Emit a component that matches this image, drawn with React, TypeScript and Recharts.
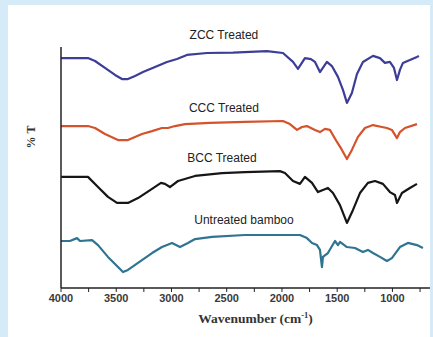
import { Label, Line, LineChart, ReferenceDot, XAxis, YAxis } from 'recharts';

// FTIR spectra, wavenumber in cm^-1, transmittance offset per sample (arbitrary units)
const zccWave = [4000, 3873, 3756, 3692, 3602, 3511, 3448, 3394, 3330, 3258, 3149, 3041, 2950, 2860, 2679, 2443, 2136, 1991, 1900, 1855, 1792, 1738, 1701, 1656, 1593, 1548, 1493, 1448, 1412, 1367, 1321, 1267, 1176, 1113, 1068, 1023, 986, 959, 932, 905, 842, 778, 760];
const zccT = [95.4, 95.4, 95.4, 94.2, 91.3, 88.4, 86.7, 86.7, 88.0, 89.6, 91.7, 93.8, 95.0, 96.7, 97.5, 97.7, 98.3, 97.5, 93.8, 90.9, 95.4, 95.0, 93.8, 89.6, 93.8, 92.1, 87.6, 82.2, 76.8, 80.9, 88.8, 93.8, 96.3, 95.4, 93.4, 93.8, 91.3, 86.3, 90.5, 93.4, 94.6, 95.9, 96.3];

const cccWave = [4000, 3756, 3692, 3602, 3484, 3394, 3330, 3267, 3176, 3086, 3032, 2968, 2878, 2652, 2335, 1991, 1928, 1864, 1819, 1774, 1701, 1656, 1611, 1566, 1502, 1457, 1412, 1367, 1312, 1249, 1176, 1095, 1050, 1005, 959, 932, 887, 778];
const cccT = [67.2, 67.2, 66.4, 63.9, 61.4, 61.4, 62.7, 63.9, 65.1, 66.4, 66.4, 67.2, 68.0, 68.5, 68.9, 69.3, 68.0, 65.6, 66.8, 67.2, 65.6, 64.7, 66.0, 65.6, 60.6, 57.3, 53.5, 57.3, 62.7, 66.4, 67.6, 66.8, 66.4, 65.6, 62.2, 64.7, 66.4, 68.0];

const bccWave = [4000, 3756, 3665, 3575, 3493, 3394, 3303, 3176, 3095, 3059, 3014, 2941, 2787, 2543, 2335, 2018, 1973, 1900, 1837, 1792, 1728, 1674, 1629, 1584, 1538, 1475, 1412, 1357, 1294, 1222, 1158, 1086, 1023, 977, 959, 914, 842, 778];
const bccT = [46.1, 46.1, 41.9, 37.8, 35.3, 35.3, 37.3, 41.1, 43.6, 43.2, 41.9, 44.4, 46.5, 47.7, 48.1, 48.5, 47.7, 44.4, 43.2, 46.1, 43.6, 39.8, 40.7, 41.5, 39.4, 34.4, 27.0, 32.4, 39.4, 43.6, 44.4, 43.2, 39.8, 38.6, 35.3, 39.4, 41.5, 43.2];

const rawWave = [4000, 3919, 3855, 3828, 3719, 3665, 3575, 3484, 3439, 3394, 3303, 3176, 3086, 2995, 2923, 2851, 2787, 2633, 2335, 2018, 1837, 1774, 1728, 1683, 1656, 1638, 1629, 1584, 1520, 1493, 1475, 1412, 1339, 1267, 1222, 1176, 1113, 1050, 1005, 932, 860, 778, 724];
const rawT = [19.5, 19.5, 20.7, 19.5, 19.9, 17.8, 12.9, 8.7, 6.6, 7.5, 10.4, 14.5, 17.0, 18.7, 17.0, 18.7, 20.3, 21.2, 22.0, 22.0, 22.0, 20.7, 18.7, 17.8, 15.8, 8.7, 12.9, 14.5, 19.5, 17.8, 19.1, 17.0, 16.6, 14.9, 15.8, 14.5, 12.9, 11.2, 12.4, 17.0, 18.7, 17.8, 16.6];

const xTicks = [4000, 3750, 3500, 3250, 3000, 2750, 2500, 2250, 2000, 1750, 1500, 1250, 1000, 750];

const sampleNames = ['ZCC Treated', 'CCC Treated', 'BCC Treated', 'Untreated bamboo'];
const labelWave = [2525, 2525, 2543, 2344];
const labelT = [105, 74.7, 53.9, 28.2];

const zip = (w: number[], t: number[]) => w.map((x, i) => ({ w: x, t: t[i] }));

const series = [
  { name: 'ZCC', data: zip(zccWave, zccT), color: '#3d3d98' },
  { name: 'CCC', data: zip(cccWave, cccT), color: '#d4532b' },
  { name: 'BCC', data: zip(bccWave, bccT), color: '#161616' },
  { name: 'Untreated', data: zip(rawWave, rawT), color: '#2f7491' },
];

const SERIF = '"Liberation Serif", "Times New Roman", serif';
const SANS = '"Liberation Sans", Arial, sans-serif';

const XTitle = ({ viewBox }: any) => {
  const { x, y, width } = viewBox;
  return (
    <text x={x + width / 2 + 10} y={y + 35} textAnchor="middle" fontFamily={SERIF} fontWeight="bold" fontSize={13.5} fill="#333">
      Wavenumber (cm
      <tspan dy={-5} fontSize={8.5}>-1</tspan>
      <tspan dy={5}>)</tspan>
    </text>
  );
};

const YTitle = ({ viewBox }: any) => {
  const { x, y } = viewBox;
  const cx = x + 31;
  const cy = y + 90;
  return (
    <text x={cx} y={cy} transform={`rotate(-90 ${cx} ${cy})`} textAnchor="middle" dominantBaseline="central" fontFamily={SERIF} fontWeight="bold" fontSize={12} fill="#333">
      % T
    </text>
  );
};

export default function App() {
  return (
    <div style={{ position: 'absolute', left: 0, top: 0, width: 433, height: 337, background: '#d6ebf8' }}>
      <div style={{ position: 'absolute', left: 8, top: 5, width: 422, height: 332, background: '#fff' }} />
      <div style={{ position: 'absolute', left: 0, top: 0 }}>
        <LineChart width={433} height={337} margin={{ top: 47, right: 3, bottom: 0, left: 0 }}>
          <XAxis
            type="number"
            dataKey="w"
            domain={[660, 4000]}
            reversed
            allowDataOverflow
            ticks={xTicks}
            interval={0}
            tickFormatter={(v: number) => (v % 500 === 0 ? String(v) : '')}
            tick={{ fontSize: 11, fontWeight: 'bold', fill: '#3a3a3a', fontFamily: SANS }}
            tickSize={4}
            tickLine={{ stroke: '#222' }}
            axisLine={{ stroke: '#222', strokeWidth: 1.5 }}
            height={49}
          >
            <Label content={<XTitle />} />
          </XAxis>
          <YAxis
            type="number"
            domain={[0, 100]}
            tick={false}
            tickLine={false}
            axisLine={{ stroke: '#222', strokeWidth: 1.5 }}
            width={61}
          >
            <Label content={<YTitle />} />
          </YAxis>
          {series.map(s => (
            <Line
              key={s.name}
              data={s.data}
              dataKey="t"
              type="linear"
              stroke={s.color}
              strokeWidth={2.2}
              strokeLinejoin="round"
              dot={false}
              isAnimationActive={false}
            />
          ))}
          {sampleNames.map((n, i) => (
            <ReferenceDot
              key={n}
              x={labelWave[i]}
              y={labelT[i]}
              r={0}
              stroke="none"
              fill="none"
              ifOverflow="visible"
              label={{ value: n, position: 'center', fill: '#222', fontSize: 12, fontFamily: SANS }}
            />
          ))}
        </LineChart>
      </div>
    </div>
  );
}
